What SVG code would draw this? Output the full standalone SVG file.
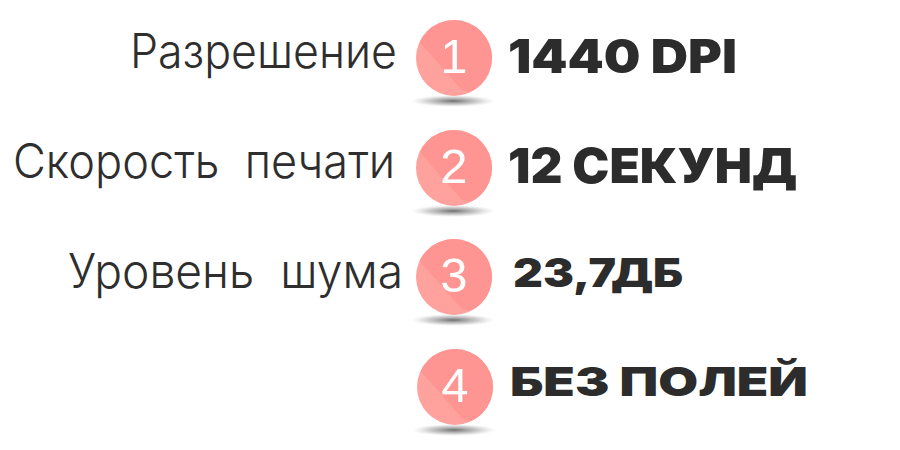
<svg xmlns="http://www.w3.org/2000/svg" width="900" height="450" viewBox="0 0 900 450">
<style>
.lbl{font-family:Inter,"Noto Sans","DejaVu Sans",sans-serif;font-weight:300;font-size:48px;fill:#2e2e2e;white-space:pre}
.val{font-family:Inter,"DejaVu Sans",sans-serif;font-weight:900;fill:#2b2c2b}
.num{font-family:"Liberation Sans",Arial,sans-serif;font-size:49px;fill:#ffffff;text-anchor:middle}
</style>
<defs>
<radialGradient id="sh" cx="0.5" cy="0.5" r="0.5">
<stop offset="0" stop-color="#555" stop-opacity="0.85"/>
<stop offset="0.6" stop-color="#888" stop-opacity="0.4"/>
<stop offset="1" stop-color="#bbb" stop-opacity="0"/>
</radialGradient>
<clipPath id="cc"><circle cx="0" cy="0" r="38"/></clipPath>
<g id="badge">
<ellipse cx="-1" cy="43" rx="42" ry="6" fill="url(#sh)"/>
<circle cx="0" cy="0" r="38" fill="#ffa19d"/>
<polygon clip-path="url(#cc)" points="-38,-20 -20,-40 50,-40 50,40 8,32" fill="#ff9592"/>
</g>
</defs>
<g id="node1">
<text class="lbl" x="397" y="68" text-anchor="end" textLength="267" lengthAdjust="spacingAndGlyphs">Разрешение</text>
<use href="#badge" x="454" y="58"/>
<text class="num" x="454" y="73">1</text>
<text class="val" x="508" y="73" font-size="47" textLength="229" lengthAdjust="spacingAndGlyphs">1440 DPI</text>
</g>
<g id="node2">
<text class="lbl" x="395" y="178" text-anchor="end" textLength="382" lengthAdjust="spacingAndGlyphs">Скорость  печати</text>
<use href="#badge" x="454" y="168"/>
<text class="num" x="454" y="183">2</text>
<text class="val" x="508" y="183" font-size="48" textLength="289" lengthAdjust="spacingAndGlyphs">12 СЕКУНД</text>
</g>
<g id="node3">
<text class="lbl" x="403" y="288" text-anchor="end" textLength="335" lengthAdjust="spacingAndGlyphs">Уровень  шума</text>
<use href="#badge" x="454" y="277"/>
<text class="num" x="454" y="292">3</text>
<text class="val" x="513" y="287" font-size="40" textLength="170" lengthAdjust="spacingAndGlyphs">23,7ДБ</text>
</g>
<g id="node4">
<use href="#badge" x="455" y="387"/>
<text class="num" x="455" y="402">4</text>
<text class="val" x="510" y="396" font-size="40" textLength="298" lengthAdjust="spacingAndGlyphs">БЕЗ ПОЛЕЙ</text>
</g>
<g id="connectors"/>
</svg>
